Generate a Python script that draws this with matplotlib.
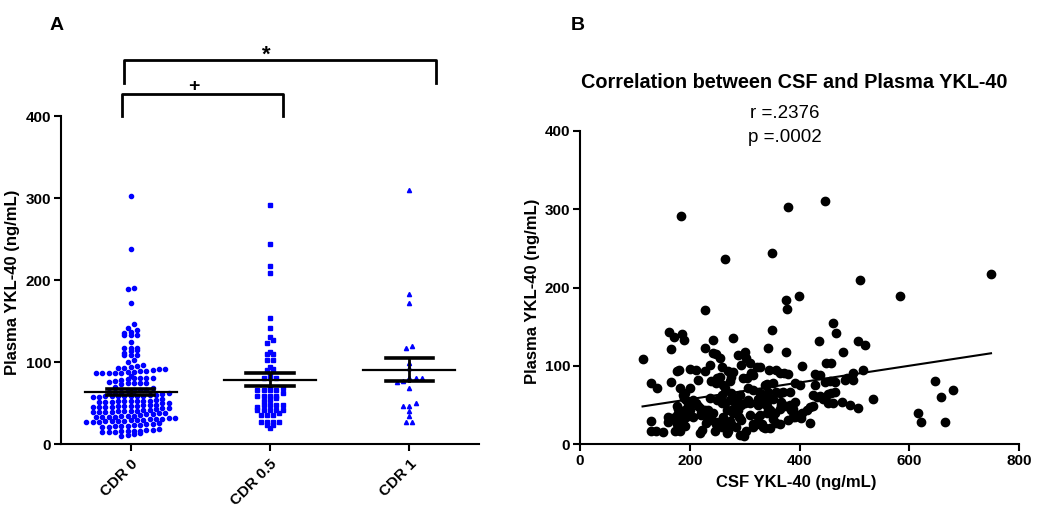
import numpy as np
import matplotlib
matplotlib.use("Agg")
import matplotlib.pyplot as plt

plt.rcParams['font.family'] = ['Liberation Sans', 'DejaVu Sans']

# panel A: plasma YKL-40 by CDR group
groups = ["CDR 0", "CDR 0.5", "CDR 1"]
cdr0 = [303, 238, 190, 189, 172,
        146, 142, 139, 137, 135, 133, 133, 133, 124,
        117, 117, 117, 115, 113, 111, 108, 108, 108, 102, 100,
        96, 95, 94, 93,
        93, 92, 91, 90, 89, 88, 87, 87, 87, 87, 87, 88, 89,
        83, 80, 80, 80, 80, 79, 78, 77,
        76, 74, 74, 74, 74, 73,
        70, 68, 66, 66, 65, 65, 64, 64, 63,
        62, 61, 60, 60, 59, 59, 59, 58, 58, 58, 58, 57, 57,
        55, 54, 53, 53, 52, 52, 52, 52, 51, 51, 51, 50, 50,
        48, 47, 47, 46, 46, 46, 46, 45, 45, 45, 45, 44, 44, 43,
        42, 41, 40, 40, 40, 40, 39, 39, 39, 39, 38, 38, 37,
        36, 35, 34, 34, 34, 33, 33, 33, 33, 32, 32, 31, 31,
        30, 29, 29, 29, 28, 28, 28, 28, 27, 27, 27, 26,
        25, 24, 23, 23, 22, 22, 22, 21, 21,
        18, 17, 17, 16, 16, 16, 16, 15, 15, 15,
        13, 12, 11, 10]
cdr05 = [292, 244, 217, 209, 154, 142, 130, 127, 123,
         112, 110, 110, 103, 102, 94, 91, 90, 84,
         80, 80, 80, 70, 68, 66, 66, 66, 66, 62,
         59, 59, 59, 59, 56, 54, 52,
         48, 48, 48, 47, 45, 42, 42, 42, 41, 41, 38,
         35, 35, 35, 27, 27, 27, 27, 23, 23, 20]
cdr1 = [310, 183, 172, 120, 117, 99, 93, 81, 80, 80, 80, 77, 76, 68,
        50, 46, 46, 40, 34, 27, 27]

# panel B: CSF vs plasma YKL-40
csf_x = [114, 130, 130, 129, 141, 138, 151, 162, 171, 165,
         166, 160, 160, 173, 184, 185, 189, 176, 180, 188,
         189, 176, 180, 188, 176, 182, 191, 200, 200, 200,
         194, 206, 212, 215, 215, 221, 218, 222, 227, 228,
         228, 230, 233, 236, 236, 239, 243, 243, 248, 255,
         248, 243, 248, 255, 258, 261, 264, 264, 267, 268,
         270, 276, 279, 276, 273, 279, 285, 288, 288, 290,
         291, 294, 297, 300, 303, 306, 309, 312, 309, 309,
         315, 322, 324, 328, 331, 337, 337, 340, 337, 343,
         345, 343, 349, 350, 351, 352, 355, 357, 358, 364,
         367, 372, 376, 376, 377, 379, 379, 382, 385, 391,
         391, 399, 405, 405, 419, 420, 425, 428, 428, 435,
         437, 446, 446, 449, 452, 455, 457, 461, 466, 477,
         480, 483, 492, 497, 498, 507, 507, 511, 516, 520,
         534, 583, 616, 622, 647, 657, 665, 680, 749,
         316, 304, 328, 364, 379, 437, 464, 486, 458, 316,
         340, 358, 370, 382, 400, 291, 300, 306, 328, 331,
         340, 346, 352, 364, 376, 388, 388, 397, 403, 413,
         425, 431, 443, 452, 461, 464, 298, 303, 316, 322,
         334, 346, 364, 352, 325, 337, 343, 325, 367, 391,
         258, 279, 182, 191, 249, 261, 273, 194, 197, 191,
         179, 176, 167, 206, 212, 218, 228, 221, 231, 249,
         258, 264, 273, 282, 279, 288, 294, 240, 252, 264,
         276, 285, 294, 179, 246, 258, 270]
plasma_y = [108, 78, 30, 17, 71, 16, 15, 143, 137, 121,
            79, 35, 28, 16, 291, 140, 133, 93, 95, 62,
            59, 48, 40, 31, 25, 16, 23, 96, 71, 44,
            35, 35, 95, 82, 48, 40, 14, 18, 171, 123,
            93, 27, 44, 59, 101, 80, 133, 116, 115, 110,
            25, 40, 78, 86, 52, 35, 237, 71, 44, 14,
            93, 86, 135, 65, 29, 40, 59, 114, 52, 35,
            12, 101, 84, 118, 110, 71, 103, 91, 52, 37,
            25, 99, 50, 37, 25, 76, 61, 40, 20, 123,
            94, 67, 244, 146, 78, 57, 40, 94, 27, 65,
            50, 91, 118, 184, 172, 303, 31, 50, 44, 35,
            78, 189, 100, 40, 47, 27, 63, 89, 76, 131,
            61, 310, 79, 103, 52, 80, 65, 154, 142, 54,
            117, 82, 50, 91, 82, 131, 46, 209, 94, 127,
            57, 189, 40, 28, 80, 60, 28, 69, 217,
            88, 84, 99, 91, 89, 88, 79, 84, 103, 69,
            77, 67, 67, 67, 76, 63, 52, 56, 65, 52,
            48, 43, 37, 45, 48, 45, 35, 37, 33, 43,
            48, 60, 58, 64, 52, 66, 10, 17, 22, 26,
            22, 20, 26, 32, 35, 52, 56, 58, 54, 54,
            98, 92, 71, 65, 84, 75, 81, 56, 48, 43,
            45, 37, 33, 56, 52, 46, 43, 37, 35, 56,
            62, 52, 56, 54, 45, 43, 50, 31, 28, 24,
            26, 22, 31, 18, 16, 22, 16]

# linear fit shown on the original
fit_slope = 0.107
fit_intercept = 35.8

BLUE = "#0000ff"


def row_offsets(vals, binw, sp_px, xpx, start=3):
    # prism-style dot plot: points in the same value band sit side by side
    vals = np.asarray(vals, float)
    bins = np.floor((vals - start) / binw).astype(int)
    offs = np.zeros(len(vals))
    for b in np.unique(bins):
        idx = np.where(bins == b)[0]
        idx = idx[np.argsort(vals[idx])]
        n = len(idx)
        offs[idx] = (np.arange(n) - (n - 1) / 2) * sp_px / xpx
    return offs


def main():
    fig = plt.figure(figsize=(10.5, 5.12), dpi=100)
    axA = fig.add_axes([61 / 1050, 68 / 512, 418 / 1050, 328 / 512])
    axB = fig.add_axes([580 / 1050, 68 / 512, 439 / 1050, 313 / 512])

    # ---- panel A
    markers = ["o", "s", "^"]
    sizes = [3.0, 3.3, 3.0]
    for i, vals in enumerate([cdr0, cdr05, cdr1]):
        xs = i + row_offsets(vals, 6, 6.3, 139)
        axA.plot(xs, vals, linestyle="none", marker=markers[i], ms=sizes[i],
                 color=BLUE, mec=BLUE, clip_on=False, zorder=2)
        m = np.mean(vals)
        se = np.std(vals, ddof=1) / np.sqrt(len(vals))
        axA.plot([i - 0.33, i + 0.33], [m, m], color="k", lw=1.6, zorder=3)
        axA.plot([i, i], [m - se, m + se], color="k", lw=2, zorder=3)
        for v in (m - se, m + se):
            axA.plot([i - 0.17, i + 0.17], [v, v], color="k", lw=2.6, zorder=3)

    axA.set_xlim(-0.5, 2.5)
    axA.set_ylim(0, 400)
    axA.set_yticks([0, 100, 200, 300, 400])
    axA.set_xticks(range(3))
    axA.set_xticklabels(groups, rotation=45, ha="right", va="top",
                        rotation_mode="anchor", fontweight="bold", fontsize=11)
    for lab in axA.get_yticklabels():
        lab.set_fontweight("bold")
    axA.tick_params(axis="y", labelsize=11, length=5, width=1.5, pad=2)
    axA.tick_params(axis="x", length=5, width=1.5, pad=4)

    # significance brackets
    axA.plot([-0.05, -0.05, 2.19, 2.19], [440, 468, 468, 440], color="k",
             lw=2, clip_on=False)
    axA.plot([-0.065, -0.065, 1.09, 1.09], [400, 427, 427, 400], color="k",
             lw=2, clip_on=False)
    axA.text(0.97, 461, "*", ha="center", va="bottom", fontsize=16,
             fontweight="bold")
    axA.text(0.45, 426, "+", ha="center", va="bottom", fontsize=14,
             fontweight="bold")

    # ---- panel B
    axB.scatter(csf_x, plasma_y, s=36, color="k", zorder=2, clip_on=False)
    xl = np.array([min(csf_x), max(csf_x)])
    axB.plot(xl, fit_slope * xl + fit_intercept, color="k", lw=1.5, zorder=3)
    axB.set_xlim(0, 800)
    axB.set_ylim(0, 400)
    axB.set_xticks([0, 200, 400, 600, 800])
    axB.set_yticks([0, 100, 200, 300, 400])
    for lab in axB.get_xticklabels() + axB.get_yticklabels():
        lab.set_fontweight("bold")
    axB.tick_params(labelsize=11, length=5, width=1.5, pad=2)

    for ax in (axA, axB):
        ax.spines["top"].set_visible(False)
        ax.spines["right"].set_visible(False)
        ax.spines["left"].set_linewidth(1.5)
        ax.spines["bottom"].set_linewidth(1.5)

    # texts in figure pixels
    def ft(x, y, s, **kw):
        fig.text(x / 1050, 1 - y / 512, s, ha="center", va="center", **kw)

    ft(57, 25, "A", fontsize=14, fontweight="bold")
    ft(578, 26, "B", fontsize=14, fontweight="bold")
    ft(13, 282, "Plasma YKL-40 (ng/mL)", rotation=90, fontsize=12,
       fontweight="bold")
    ft(533, 291, "Plasma YKL-40 (ng/mL)", rotation=90, fontsize=12,
       fontweight="bold")
    ft(796, 482, "CSF YKL-40 (ng/mL)", fontsize=12, fontweight="bold")
    ft(794, 82, "Correlation between CSF and Plasma YKL-40", fontsize=14.3,
       fontweight="bold")
    ft(785, 113, "r =.2376", fontsize=13.5)
    ft(785, 137, "p =.0002", fontsize=13.5)

    fig.savefig("out.png", dpi=100)


if __name__ == '__main__':
    main()
